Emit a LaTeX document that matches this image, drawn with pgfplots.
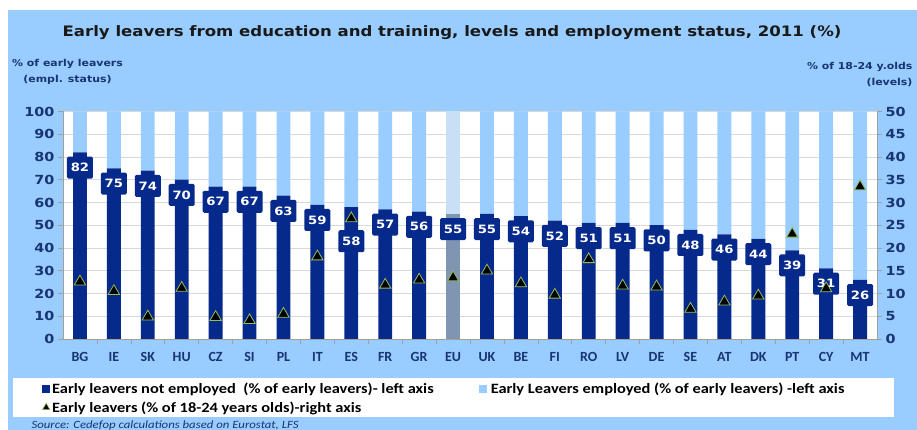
\documentclass[border=0pt]{standalone}
\usepackage{pgfplots}
\pgfplotsset{compat=1.18}
\usepackage{pgfplotstable}
\usepackage{fontspec}
\setmainfont{Carlito}
\newfontfamily\dvs{DejaVu Sans}[FakeStretch=1.15]
\newfontfamily\cw{Carlito}[FakeStretch=1.15]

\definecolor{bgblue}{RGB}{153,204,255}
\definecolor{lightbar}{RGB}{153,204,255}
\definecolor{darkbar}{RGB}{6,42,140}
\definecolor{eudark}{RGB}{127,149,178}
\definecolor{eulight}{RGB}{200,224,245}
\definecolor{navy}{RGB}{24,52,115}
\definecolor{gridgray}{RGB}{217,217,217}
\definecolor{axgray}{RGB}{160,160,160}
\definecolor{triedge}{RGB}{155,187,89}
\definecolor{titlecol}{RGB}{25,25,25}

\pgfplotstableread{
x lab dark light eud eul val tri off
0  BG 82 18 0  0  82 12.6 0
1  IE 75 25 0  0  75 10.5 0
2  SK 74 26 0  0  74 4.9  0
3  HU 70 30 0  0  70 11.2 0
4  CZ 67 33 0  0  67 4.8  0
5  SI 67 33 0  0  67 4.1  0
6  PL 63 37 0  0  63 5.5  0
7  IT 59 41 0  0  59 18.1 0
8  ES 58 42 0  0  58 26.5 -19
9  FR 57 43 0  0  57 11.9 0
10 GR 56 44 0  0  56 13.0 0
11 EU 0  0  55 45 55 13.5 0
12 UK 55 45 0  0  55 15.0 0
13 BE 54 46 0  0  54 12.2 0
14 FI 52 48 0  0  52 9.7  0
15 RO 51 49 0  0  51 17.5 0
16 LV 51 49 0  0  51 11.7 0
17 DE 50 50 0  0  50 11.5 0
18 SE 48 52 0  0  48 6.6  0
19 AT 46 54 0  0  46 8.2  0
20 DK 44 56 0  0  44 9.5  0
21 PT 39 61 0  0  39 23.1 0
22 CY 31 69 0  0  31 11.1 0
23 MT 26 74 0  0  26 33.5 0
}\data

\pgfplotsset{
  /pgf/number format/assume math mode=true,
  common/.style={
    at={(63pt,91pt)}, anchor=south west, scale only axis,
    width=814pt, height=227.5pt,
    xmin=-0.5, xmax=23.5,
  },
  ticklab/.style={font=\dvs\bfseries\fontsize{12.5}{12.5}\selectfont, text=navy},
  sqlegend/.style={legend image code/.code={\fill[##1] (0pt,-4pt) rectangle (8pt,4pt);}},
  trilegend/.style={legend image code/.code={\draw[##1] plot coordinates {(4pt,0pt)};}},
}

\begin{document}
\begin{tikzpicture}
\path[use as bounding box] (0pt,0pt) rectangle (917pt,430pt);
\fill[bgblue] (8pt,0pt) rectangle (917pt,420pt);
\fill[white] (13pt,13pt) rectangle (894pt,52pt);

\node[font=\dvs\bfseries\fontsize{14.4}{14.4}\selectfont, text=titlecol] at (452pt,397pt)
  {Early leavers from education and training, levels and employment status, 2011 (\%)};
\node[font=\dvs\bfseries\fontsize{9.5}{16}\selectfont, text=navy, align=center] at (67.5pt,358pt)
  {\% of early leavers\\(empl. status)};
\node[font=\dvs\bfseries\fontsize{9.5}{16}\selectfont, text=navy, align=right, anchor=east] at (916pt,355pt)
  {\% of 18-24 y.olds\\(levels)};
\node[anchor=base west, font=\cw\itshape\fontsize{11.1}{11.1}\selectfont, text=navy] at (28pt,1.5pt)
  {Source: Cedefop calculations based on Eurostat, LFS};

\begin{axis}[common,
  ybar stacked, bar width=0.41,
  ymin=0, ymax=100,
  xtick={0,...,23},
  xticklabels={BG,IE,SK,HU,CZ,SI,PL,IT,ES,FR,GR,EU,UK,BE,FI,RO,LV,DE,SE,AT,DK,PT,CY,MT},
  minor x tick num=1,
  major x tick style={draw=none},
  minor x tick style={draw=axgray, line width=0.6pt},
  ytick={0,10,...,100},
  y tick style={draw=axgray, line width=0.6pt},
  tick align=outside, major tick length=5pt, minor tick length=5pt,
  ymajorgrids, grid style={gridgray, line width=0.6pt},
  axis x line*=bottom, axis y line*=left,
  axis line style={axgray, line width=0.8pt, -},
  axis background/.style={fill=white},
  yticklabel style={ticklab},
  xticklabel style={font=\bfseries\fontsize{14}{14}\selectfont, text=navy, yshift=-5pt},
  legend columns=2,
  legend cell align=left,
  legend style={at={(axis description cs:-0.0258,-0.190)}, anchor=north west,
    draw=none, fill=none, font=\cw\bfseries\fontsize{14.25}{14.25}\selectfont,
    /tikz/every even column/.append style={column sep=44pt},
    row sep=4pt, inner sep=0pt, nodes={inner sep=1pt}},
]
\addplot[fill=darkbar, draw=none, sqlegend] table[x=x,y=dark]{\data};
\addplot[fill=lightbar, draw=none, sqlegend] table[x=x,y=light]{\data};
\addlegendimage{only marks, mark=triangle*, mark size=4.3pt, mark options={fill=black, draw=triedge, line width=0.6pt}, trilegend}
\addplot[fill=eudark, draw=none] table[x=x,y=eud]{\data};
\addplot[fill=eulight, draw=none] table[x=x,y=eul]{\data};
\legend{\hspace{1pt}Early leavers not employed\ \ (\% of early leavers)- left axis,
        \hspace{3pt}Early Leavers employed (\% of early leavers) -left axis,
        \hspace{1pt}Early leavers (\% of 18-24 years olds)-right axis}
\end{axis}

\begin{axis}[common, hide axis, ymin=0, ymax=100,
  visualization depends on={\thisrow{off} \as \myoff},
  nodes near coords style={anchor=north, yshift=-4pt, yshift=\myoff pt,
    fill=darkbar, text=white, font=\dvs\bfseries\fontsize{11.5}{11.5}\selectfont,
    minimum width=26pt, minimum height=22pt, inner sep=0pt, rounded corners=1.5pt},
]
\addplot[draw=none, nodes near coords] table[x=x,y=val]{\data};
\end{axis}

\begin{axis}[common, ymin=0, ymax=50,
  axis y line*=right, axis x line=none,
  ytick={0,5,...,50},
  y tick style={draw=axgray, line width=0.6pt},
  tick align=outside, major tick length=5pt,
  axis line style={axgray, line width=0.8pt, -},
  yticklabel style={ticklab},
]
\addplot[only marks, mark=triangle*, mark size=6.5pt,
  mark options={fill=black, draw=triedge, line width=0.8pt}] table[x=x,y=tri]{\data};
\end{axis}
\end{tikzpicture}
\end{document}
